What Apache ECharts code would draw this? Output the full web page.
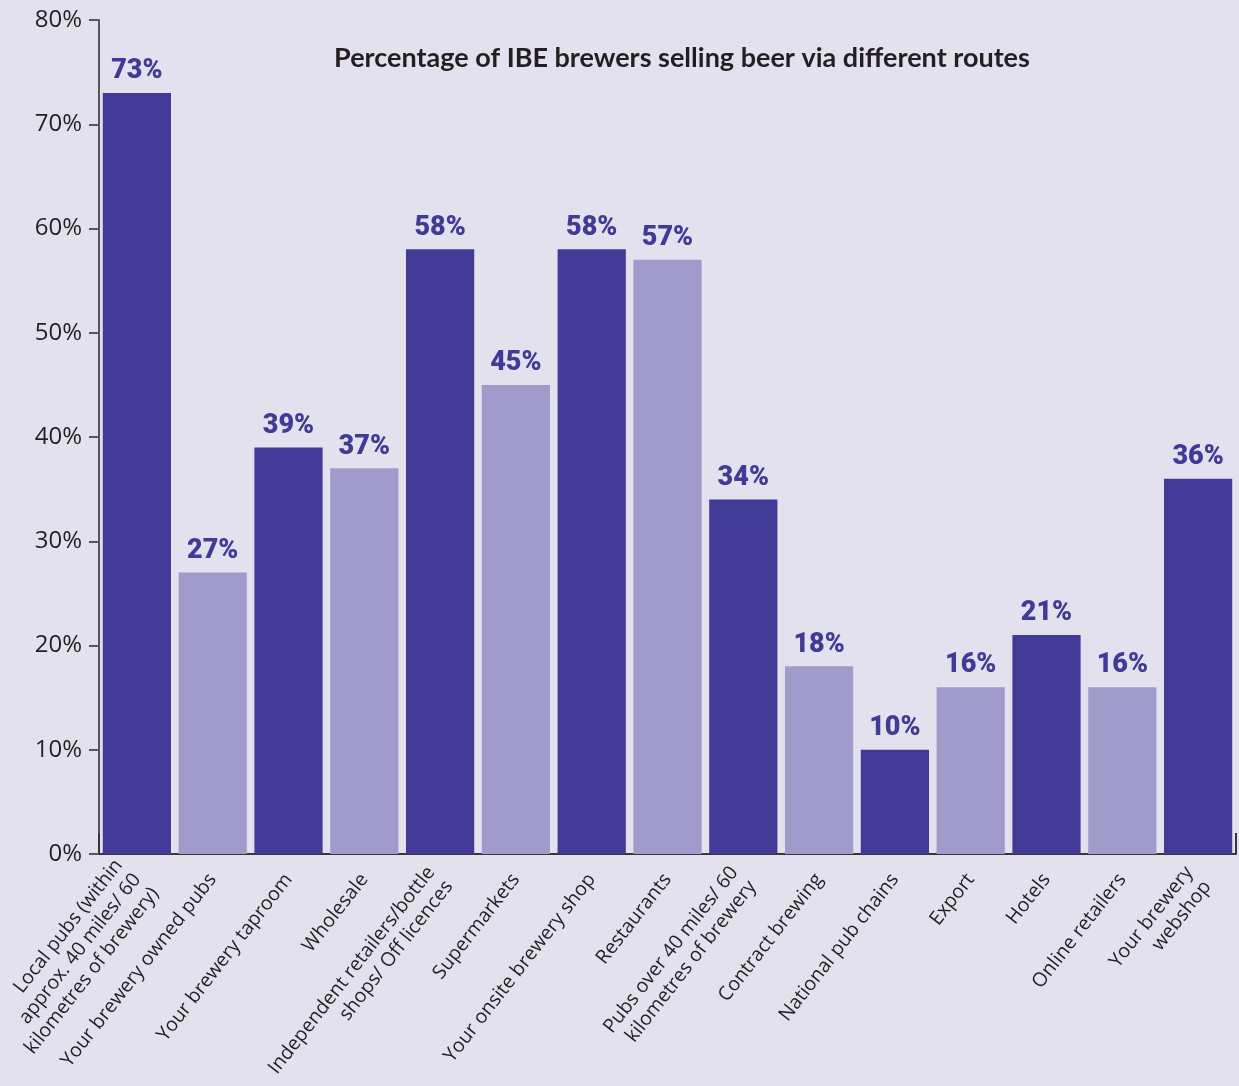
<!DOCTYPE html>
<html>
<head>
<meta charset="utf-8">
<script src="https://cdn.jsdelivr.net/npm/echarts@6/dist/echarts.min.js"></script>
<style>
  html, body { margin: 0; padding: 0; background: #e4e1ef; }
  #chart { width: 1239px; height: 1086px; }
</style>
</head>
<body>
<div id="chart"></div>
<script>
// Sales routes used by IBE brewers
const routes = [
  'Local pubs (within\napprox. 40 miles/ 60\nkilometres of brewery)',
  'Your brewery owned pubs',
  'Your brewery taproom',
  'Wholesale',
  'Independent retailers/bottle\nshops/ Off licences',
  'Supermarkets',
  'Your onsite brewery shop',
  'Restaurants',
  'Pubs over 40 miles/ 60\nkilometres of brewery',
  'Contract brewing',
  'National pub chains',
  'Export',
  'Hotels',
  'Online retailers',
  'Your brewery\nwebshop'
];

// Share of brewers using each route (%)
const shares = [73, 27, 39, 37, 58, 45, 58, 57, 34, 18, 10, 16, 21, 16, 36];

// Value axis range and step (%)
const yMin = 0;
const yMax = 80;
const yStep = 10;

const titleText = 'Percentage of IBE brewers selling beer via different routes';

const DARK = '#413a96';
const LIGHT = '#a09bcb';
const TEXT = '#231f20';
const FONT = '"Open Sans", Lato, "Noto Sans", sans-serif';

const chart = echarts.init(document.getElementById('chart'), null, { renderer: 'canvas' });

chart.setOption({
  backgroundColor: '#e4e1ef',
  animation: false,
  title: {
    text: titleText,
    left: 677,
    top: 40,
    textAlign: 'center',
    textStyle: {
      fontFamily: 'Lato, "Open Sans", sans-serif',
      fontSize: 27,
      fontWeight: 'bold',
      color: TEXT
    }
  },
  grid: {
    left: 99,
    right: 3,
    top: 20,
    bottom: 232,
    containLabel: false,
    outerBoundsMode: 'none'
  },
  xAxis: {
    type: 'category',
    data: routes,
    boundaryGap: true,
    axisLine: { show: true, lineStyle: { color: '#3a3638', width: 2 } },
    axisTick: {
      show: true,
      inside: true,
      length: 21,
      lineStyle: { color: '#3a3638', width: 2 },
      interval: function (index) { return index === routes.length - 1; }
    },
    axisLabel: {
      interval: 0,
      rotate: 52,
      margin: 22,
      fontFamily: FONT,
      fontSize: 19.5,
      lineHeight: 23,
      color: TEXT
    }
  },
  yAxis: {
    type: 'value',
    min: yMin,
    max: yMax,
    interval: yStep,
    splitLine: { show: false },
    axisLine: { show: true, lineStyle: { color: '#5a5658', width: 2 } },
    axisTick: { show: true, length: 10, lineStyle: { color: '#5a5658', width: 2 } },
    axisLabel: {
      formatter: '{value}%',
      margin: 17,
      fontFamily: FONT,
      fontSize: 24,
      color: TEXT
    }
  },
  series: [{
    type: 'bar',
    data: shares,
    barCategoryGap: '10%',
    itemStyle: {
      color: function (p) { return p.dataIndex % 2 === 0 ? DARK : LIGHT; }
    },
    label: {
      show: true,
      position: 'top',
      distance: 8,
      formatter: '{c}%',
      fontFamily: 'Roboto, "Open Sans", sans-serif',
      fontSize: 27,
      fontWeight: 900,
      color: DARK
    }
  }]
});
</script>
</body>
</html>
